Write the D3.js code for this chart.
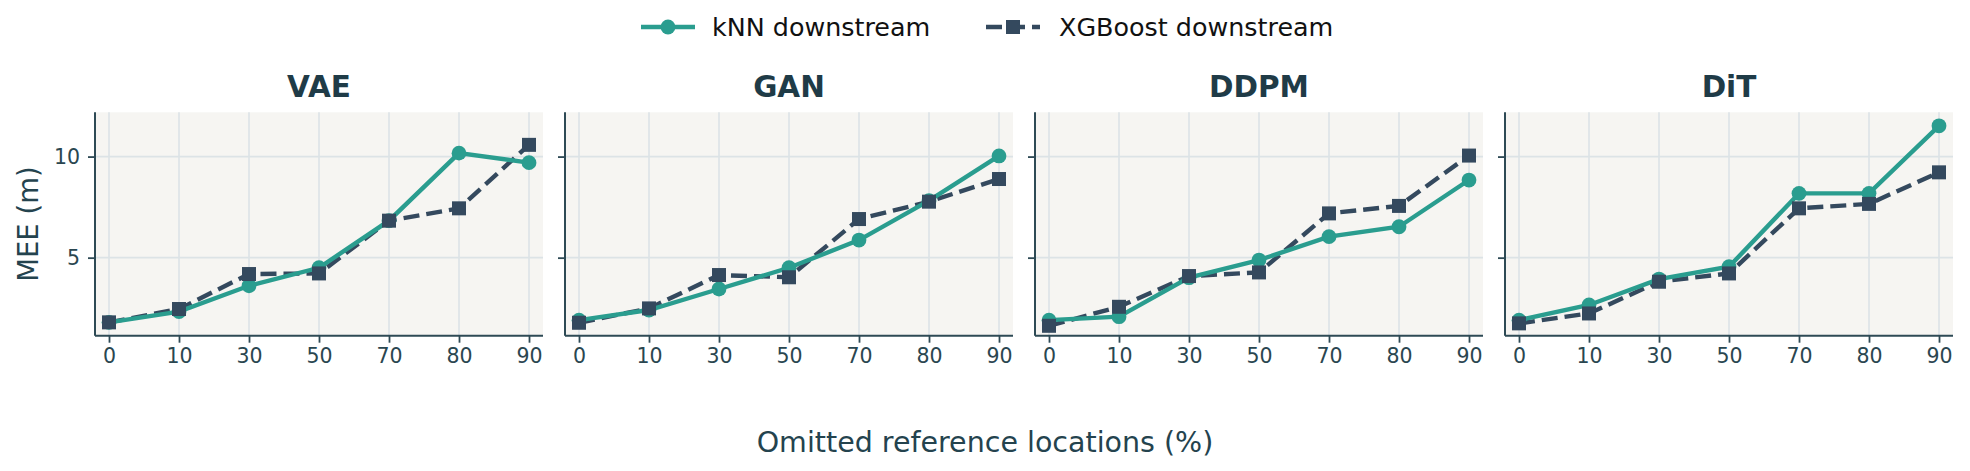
<!DOCTYPE html>
<html>
<head>
<meta charset="utf-8">
<script src="https://cdn.jsdelivr.net/npm/d3@7"></script>
<style>
  body { margin: 0; background: #ffffff; }
  text { font-family: "DejaVu Sans", sans-serif; }
</style>
</head>
<body>
<div id="chart"></div>
<script>
// data
const xLabels = ["0", "10", "30", "50", "70", "80", "90"];
const models = ["VAE", "GAN", "DDPM", "DiT"];
const knnVAE  = [1.80, 2.33, 3.61, 4.50, 6.83, 10.17, 9.70];
const xgbVAE  = [1.80, 2.46, 4.19, 4.22, 6.83, 7.44, 10.58];
const knnGAN  = [1.91, 2.41, 3.45, 4.50, 5.87, 7.82, 10.03];
const xgbGAN  = [1.78, 2.49, 4.14, 4.03, 6.91, 7.77, 8.89];
const knnDDPM = [1.91, 2.08, 4.01, 4.88, 6.04, 6.53, 8.84];
const xgbDDPM = [1.63, 2.57, 4.09, 4.27, 7.19, 7.56, 10.05];
const knnDiT  = [1.91, 2.66, 3.94, 4.55, 8.18, 8.18, 11.52];
const xgbDiT  = [1.75, 2.24, 3.81, 4.22, 7.44, 7.66, 9.22];
const yTicks = [5, 10];

const knnSeries = [knnVAE, knnGAN, knnDDPM, knnDiT];
const xgbSeries = [xgbVAE, xgbGAN, xgbDDPM, xgbDiT];

const W = 1970, H = 471;
const teal = "#2a9d8f", slate = "#34495e", ink = "#1f3b47", axisCol = "#2e4a55";
const panelW = 448, panelH = 223.4, panelTop = 112.3, left0 = 95, gapX = 470;
const lw = 4.4, dotR = 7.4, sq = 14, dash = "16,7";

const svg = d3.select("#chart").append("svg")
  .attr("width", W).attr("height", H);

const x = d3.scalePoint().domain(xLabels).range([0, panelW]).padding(0.2);
const y = d3.scaleLinear().domain([1.14, 12.19]).range([panelH, 0]);

const lineGen = d3.line()
  .x((d, i) => x(xLabels[i]))
  .y(d => y(d));

models.forEach((m, k) => {
  const g = svg.append("g").attr("transform", `translate(${left0 + k * gapX},${panelTop})`);

  g.append("rect").attr("width", panelW).attr("height", panelH).attr("fill", "#f6f5f2");

  // grid
  g.selectAll(".vg").data(xLabels).join("line")
    .attr("x1", d => x(d)).attr("x2", d => x(d))
    .attr("y1", 0).attr("y2", panelH)
    .attr("stroke", "#dce3e6").attr("stroke-width", 1.6);
  g.selectAll(".hg").data(yTicks).join("line")
    .attr("x1", 0).attr("x2", panelW)
    .attr("y1", d => y(d)).attr("y2", d => y(d))
    .attr("stroke", "#dce3e6").attr("stroke-width", 1.6);

  // axes
  const xAxis = g.append("g").attr("transform", `translate(0,${panelH})`)
    .call(d3.axisBottom(x).tickSize(7).tickPadding(6));
  const yAxis = g.append("g")
    .call(d3.axisLeft(y).tickValues(yTicks).tickSize(7).tickPadding(8)
      .tickFormat(k === 0 ? d3.format("d") : () => ""));
  [xAxis, yAxis].forEach(a => {
    a.select(".domain").attr("stroke", axisCol).attr("stroke-width", 2);
    a.selectAll(".tick line").attr("stroke", axisCol).attr("stroke-width", 1.8);
    a.selectAll(".tick text").attr("fill", "#2a4650")
      .style("font-size", "20.5px").style("font-family", "DejaVu Sans");
  });
  xAxis.select(".domain").attr("d", `M0,0H${panelW}`);
  yAxis.select(".domain").attr("d", `M0,${panelH}V0`);

  // title
  g.append("text").attr("x", panelW / 2).attr("y", 97.3 - panelTop)
    .attr("text-anchor", "middle").attr("fill", ink)
    .style("font-size", "29.5px").style("font-weight", "bold")
    .text(m);

  // XGBoost (dashed, squares)
  g.append("path").datum(xgbSeries[k]).attr("d", lineGen)
    .attr("fill", "none").attr("stroke", slate).attr("stroke-width", lw)
    .attr("stroke-dasharray", dash);
  // kNN (solid, circles)
  g.append("path").datum(knnSeries[k]).attr("d", lineGen)
    .attr("fill", "none").attr("stroke", teal).attr("stroke-width", lw);

  g.selectAll(".dot").data(knnSeries[k]).join("circle")
    .attr("cx", (d, i) => x(xLabels[i])).attr("cy", d => y(d))
    .attr("r", dotR).attr("fill", teal);
  g.selectAll(".sq").data(xgbSeries[k]).join("rect")
    .attr("x", (d, i) => x(xLabels[i]) - sq / 2).attr("y", d => y(d) - sq / 2)
    .attr("width", sq).attr("height", sq).attr("fill", slate);
});

// axis labels
svg.append("text").attr("x", 985).attr("y", 442)
  .attr("text-anchor", "middle").attr("dominant-baseline", "central")
  .attr("fill", "#24434e").style("font-size", "28.5px")
  .text("Omitted reference locations (%)");
svg.append("text")
  .attr("transform", `translate(28,${panelTop + panelH / 2}) rotate(-90)`)
  .attr("text-anchor", "middle").attr("dominant-baseline", "central")
  .attr("fill", "#24434e").style("font-size", "27.5px")
  .text("MEE (m)");

// legend
const leg = svg.append("g").attr("transform", "translate(0,27)");
leg.append("line").attr("x1", 641).attr("x2", 695).attr("y1", 0).attr("y2", 0)
  .attr("stroke", teal).attr("stroke-width", lw);
leg.append("circle").attr("cx", 668).attr("cy", 0).attr("r", dotR).attr("fill", teal);
leg.append("text").attr("x", 712).attr("y", 0).attr("dominant-baseline", "central")
  .attr("fill", "#111").style("font-size", "25.4px").text("kNN downstream");

leg.append("line").attr("x1", 986).attr("x2", 1040).attr("y1", 0).attr("y2", 0)
  .attr("stroke", slate).attr("stroke-width", lw).attr("stroke-dasharray", dash);
leg.append("rect").attr("x", 1013 - sq / 2).attr("y", -sq / 2).attr("width", sq).attr("height", sq)
  .attr("fill", slate);
leg.append("text").attr("x", 1059).attr("y", 0).attr("dominant-baseline", "central")
  .attr("fill", "#111").style("font-size", "25.4px").text("XGBoost downstream");
</script>
</body>
</html>
